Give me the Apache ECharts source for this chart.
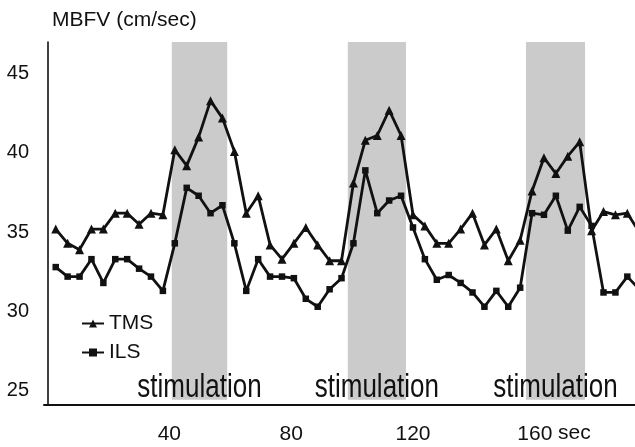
<!DOCTYPE html>
<html>
<head>
<meta charset="utf-8">
<script src="https://cdn.jsdelivr.net/npm/echarts@6/dist/echarts.min.js"></script>
<style>
html,body{margin:0;padding:0;background:#fff;}
#chart{width:635px;height:447px;}
</style>
</head>
<body>
<div id="chart"></div>
<script>
// Sampling: one value every ~3.9 s
const sampleStart = 2.7;
const sampleStep = 3.91;

const tms = [35.2, 34.3, 33.9, 35.2, 35.2, 36.2, 36.2, 35.5, 36.2, 36.1,
             40.2, 39.2, 41.0, 43.3, 42.2, 40.1, 36.2, 37.3, 34.2, 33.3,
             34.3, 35.3, 34.2, 33.2, 33.2, 38.1, 40.8, 41.1, 42.7, 41.1,
             36.1, 35.4, 34.3, 34.3, 35.2, 36.2, 34.2, 35.2, 33.2, 34.5,
             37.6, 39.7, 38.7, 39.8, 40.7, 35.1, 36.3, 36.1, 36.2, 35.0];

const ils = [32.8, 32.2, 32.2, 33.3, 31.8, 33.3, 33.3, 32.7, 32.2, 31.3,
             34.3, 37.8, 37.3, 36.2, 36.7, 34.3, 31.3, 33.3, 32.2, 32.2,
             32.1, 30.8, 30.3, 31.4, 32.1, 34.3, 38.9, 36.2, 37.0, 37.3,
             35.3, 33.3, 32.0, 32.3, 31.8, 31.2, 30.3, 31.3, 30.3, 31.5,
             36.2, 36.1, 37.3, 35.1, 36.6, 35.4, 31.2, 31.2, 32.2, 31.4];

// stimulation periods (sec)
const stimStart = [40.8, 98.6, 157.1];
const stimEnd   = [59.0, 117.7, 176.5];
const stimLabel = 'stimulation';

const xTicks = [40, 80, 120, 160];
const yTicks = [25, 30, 35, 40, 45];

const seconds = tms.map((_, i) => +(sampleStart + sampleStep * i).toFixed(2));

const FONT = 'Liberation Sans, Arial, sans-serif';

const chart = echarts.init(document.getElementById('chart'), null, {renderer: 'canvas'});

const stimAreas = stimStart.map((s, k) => [
  {xAxis: s, yAxis: 24.43},
  {xAxis: stimEnd[k], yAxis: 47}
]);

chart.setOption({
  animation: false,
  backgroundColor: '#ffffff',
  title: {
    text: 'MBFV (cm/sec)',
    left: 47,
    top: 5,
    textStyle: {fontFamily: FONT, fontSize: 21, fontWeight: 'normal', color: '#111'}
  },
  legend: {
    orient: 'vertical',
    left: 76,
    top: 308,
    itemWidth: 22,
    itemHeight: 10,
    itemGap: 8,
    data: ['TMS', 'ILS'],
    textStyle: {fontFamily: FONT, fontSize: 21, color: '#111'}
  },
  grid: {left: 44, right: 0, top: 42, bottom: 42, containLabel: false},
  xAxis: {
    type: 'value',
    min: -1.15,
    max: 192.9,
    axisLine: {show: true, onZero: false, lineStyle: {color: '#111', width: 2}},
    axisTick: {show: false},
    splitLine: {show: false},
    axisLabel: {
      customValues: xTicks,
      margin: 19,
      fontFamily: FONT, fontSize: 21, color: '#111'
    }
  },
  yAxis: {
    type: 'value',
    min: 24.1,
    max: 47,
    axisLine: {show: true, lineStyle: {color: '#111', width: 1.6}},
    axisTick: {show: false},
    splitLine: {show: false},
    axisLabel: {
      customValues: yTicks,
      margin: 15,
      fontFamily: FONT, fontSize: 20, color: '#111'
    }
  },
  series: [
    {
      name: 'TMS',
      type: 'line',
      data: seconds.map((t, i) => [t, tms[i]]),
      symbol: 'triangle',
      symbolSize: 9,
      lineStyle: {color: '#111', width: 2.8},
      itemStyle: {color: '#111'},
      z: 3,
      markArea: {
        silent: true,
        itemStyle: {color: '#cbcbcb'},
        data: stimAreas
      }
    },
    {
      name: 'ILS',
      type: 'line',
      data: seconds.map((t, i) => [t, ils[i]]),
      symbol: 'rect',
      symbolSize: 6.5,
      lineStyle: {color: '#111', width: 2.8},
      itemStyle: {color: '#111'},
      z: 3
    }
  ]
});

// Condensed "stimulation" captions centred on each band, plus the "sec" unit
const baseY = chart.convertToPixel({yAxisIndex: 0}, 24.43);
const graphics = stimStart.map((s, k) => ({
  type: 'text',
  x: chart.convertToPixel({xAxisIndex: 0}, (s + stimEnd[k]) / 2),
  y: baseY + 5,
  scaleX: 0.8,
  z: 10,
  style: {
    text: stimLabel,
    font: '32.5px Liberation Sans, Arial, sans-serif',
    fill: '#111',
    align: 'center',
    verticalAlign: 'bottom'
  }
}));
graphics.push({
  type: 'text',
  left: 558,
  top: 423,
  style: {text: 'sec', font: '21px Liberation Sans, Arial, sans-serif', fill: '#111'}
});
chart.setOption({graphic: graphics});
</script>
</body>
</html>
